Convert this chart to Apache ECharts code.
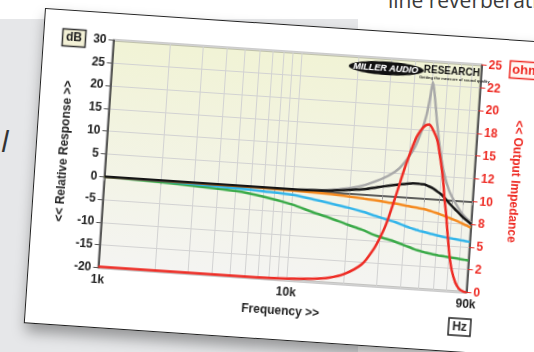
<!DOCTYPE html>
<html><head><meta charset="utf-8">
<script src="https://cdn.jsdelivr.net/npm/echarts@6/dist/echarts.min.js"></script>
<style>
html,body{margin:0;padding:0;width:534px;height:352px;overflow:hidden;background:#fff;}
#bg{position:absolute;left:0;top:19px;width:358px;height:333px;background:#e6e7e9;}
#txt{position:absolute;left:388px;top:-10px;font:21px/21px 'Open Sans',sans-serif;color:#3a3a3a;white-space:nowrap;}
#slash{position:absolute;left:1px;top:126px;font:italic 30px/30px 'Open Sans',sans-serif;color:#333;}
#card{position:absolute;left:45px;top:8px;width:540px;height:314px;background:#fff;border:1px solid #222;transform:rotate(3.85deg);transform-origin:0 0;box-shadow:2px 8px 14px rgba(0,0,0,0.35);}
#chart{position:absolute;left:-1px;top:-1px;width:540px;height:314px;}
</style></head>
<body>
<div id="bg"></div>
<div id="txt">line reverberation</div>
<div id="slash">l</div>
<div id="card"><div id="chart"></div></div>
<script>
const freqHz = [1000,2000,3000,5000,7000,10000,13000,16000,20000,24000,28000,32000,36000,40000,43000,46000,48000,49500,50500,52000,55000,58000,62000,67000,73000,80000,86000,90000];
const grayDb   = [0,0,0,0,0,0,0.15,0.45,1.1,2.0,3.2,4.5,6.2,8.8,11.3,15.0,18.3,22.5,25.5,23.0,16.5,11.2,6.0,2.1,-0.5,-2.8,-4.0,-4.7];
const blackDb  = [0,0,0,0,0,0,0.1,0.3,0.7,1.1,1.7,2.2,2.6,2.9,3.1,3.1,3.0,3.0,2.9,2.7,2.3,1.7,0.9,-0.5,-1.9,-3.4,-4.4,-5.0];
const orangeDb = [0,0,-0.05,-0.1,-0.15,-0.25,-0.35,-0.5,-0.75,-1.0,-1.2,-1.45,-1.65,-1.9,-2.05,-2.2,-2.3,-2.35,-2.4,-2.5,-2.75,-3.0,-3.35,-3.8,-4.3,-4.9,-5.4,-5.8];
const blueDb   = [0,-0.1,-0.3,-0.6,-0.85,-1.2,-1.9,-2.5,-3.2,-3.9,-4.6,-5.2,-5.7,-6.3,-6.7,-7.0,-7.2,-7.3,-7.35,-7.45,-7.65,-7.85,-8.05,-8.25,-8.45,-8.65,-8.8,-8.9];
const greenDb  = [0,-0.4,-0.7,-1.2,-2.0,-3.3,-4.7,-5.7,-6.9,-7.8,-8.8,-9.4,-9.9,-10.5,-10.9,-11.3,-11.5,-11.6,-11.7,-11.8,-12.0,-12.15,-12.3,-12.45,-12.6,-12.75,-12.9,-13.0];
const redFreqHz = [1000,5000,10000,13600,16700,20000,24600,28000,30000,32000,35000,38600,43000,46000,48000,50000,52000,55700,58000,60000,62000,64000,66000,68000,71000,74000,78000,82000,86000,90000];
const redOhm    = [0.1,0.1,0.2,0.35,0.6,1.1,2.3,4.0,5.3,6.8,9.8,13.3,16.5,17.6,18.0,18.1,17.7,16.5,15.0,13.6,12.0,10.0,8.4,6.5,4.0,2.3,1.0,0.35,0.1,0.0];
const gridFreqHz = [1000,2000,3000,4000,5000,6000,7000,8000,9000,10000,20000,30000,40000,50000,60000,70000,80000,90000];
const freqLabelHz = [1000,10000,90000];
const freqLabels = ['1k','10k','90k'];
const ohmLabels = ['0','2','5','8','10','12','15','18','20','22','25'];

const lg = Math.log10;
const pair = (fs, vs) => fs.map((f, i) => [lg(f), vs[i]]);
const FONT = "'Liberation Sans', Arial, sans-serif";
const RED = '#ee2b24';

const chart = echarts.init(document.getElementById('chart'), null, {renderer: 'canvas'});
const lineS = (name, color, data, yi, z) => ({
  name, type: 'line', data, yAxisIndex: yi, showSymbol: false, symbol: 'none',
  smooth: 0.3, lineStyle: {color, width: 2.5}, z, animation: false
});
chart.setOption({
  animation: false,
  grid: {
    left: 70.5, top: 27.5, width: 369, height: 228, show: true,
    backgroundColor: new echarts.graphic.LinearGradient(0, 0, 0, 1, [
      {offset: 0, color: '#f1f3d5'}, {offset: 1, color: '#f4f4f2'}]),
    borderColor: '#333', borderWidth: 1.5
  },
  xAxis: {
    type: 'value', min: lg(1000), max: lg(90000),
    axisLine: {show: true, lineStyle: {color: '#333', width: 1.5}},
    axisTick: {show: true, length: 4, customValues: gridFreqHz.map(lg), lineStyle: {color: '#999'}},
    axisLabel: {
      customValues: freqLabelHz.map(lg), margin: 6,
      formatter: v => { const i = freqLabelHz.findIndex(f => Math.abs(lg(f) - v) < 1e-6); return i >= 0 ? freqLabels[i] : ''; },
      fontFamily: FONT, fontWeight: 'bold', fontSize: 12, color: '#222'
    },
    splitLine: {show: true, lineStyle: {color: '#d2d2d2', width: 1}},
    name: 'Frequency >>', nameLocation: 'middle', nameGap: 25,
    nameTextStyle: {fontFamily: FONT, fontWeight: 'bold', fontSize: 12, color: '#222'}
  },
  yAxis: [{
    type: 'value', min: -20, max: 30, interval: 5,
    axisLine: {show: true, lineStyle: {color: '#333', width: 1.5}},
    axisTick: {show: true, length: 5, lineStyle: {color: '#555'}},
    axisLabel: {margin: 7, fontFamily: FONT, fontWeight: 'bold', fontSize: 12, color: '#222'},
    splitLine: {show: true, lineStyle: {color: '#d2d2d2', width: 1}},
    name: '<< Relative Response >>', nameLocation: 'middle', nameGap: 36, nameRotate: 90,
    nameTextStyle: {fontFamily: FONT, fontWeight: 'bold', fontSize: 12, color: '#222'}
  }, {
    type: 'value', position: 'right', min: 0, max: 25, interval: 2.5,
    axisLine: {show: true, lineStyle: {color: '#333', width: 1.5}},
    axisTick: {show: true, length: 5, lineStyle: {color: RED}},
    axisLabel: {margin: 7, formatter: v => ohmLabels[Math.round(v / 2.5)], fontFamily: FONT, fontWeight: 'bold', fontSize: 12, color: RED},
    splitLine: {show: false},
    name: '<< Output Impedance', nameLocation: 'middle', nameGap: 35, nameRotate: -90,
    nameTextStyle: {fontFamily: FONT, fontWeight: 'bold', fontSize: 12, color: RED}
  }],
  series: [
    lineS('gray', '#a9a9a9', pair(freqHz, grayDb), 0, 2),
    lineS('green', '#3aaa48', pair(freqHz, greenDb), 0, 3),
    lineS('blue', '#33b5ea', pair(freqHz, blueDb), 0, 4),
    lineS('orange', '#f58a1f', pair(freqHz, orangeDb), 0, 5),
    lineS('black', '#151515', pair(freqHz, blackDb), 0, 6),
    lineS('red', RED, pair(redFreqHz, redOhm), 1, 7)
  ],
  graphic: [
    {type: 'rect', z: 100, shape: {x: 19.5, y: 19.5, width: 23, height: 17}, style: {fill: '#f3f1d6', stroke: '#333', lineWidth: 1.5}},
    {type: 'text', z: 101, x: 31, y: 28, style: {text: 'dB', fontFamily: FONT, fontWeight: 'bold', fontSize: 12, fill: '#222', align: 'center', verticalAlign: 'middle'}},
    {type: 'rect', z: 100, shape: {x: 468, y: 21.5, width: 32, height: 17}, style: {fill: '#fff6f2', stroke: RED, lineWidth: 1.5}},
    {type: 'text', z: 101, x: 484, y: 30, style: {text: 'ohm', fontFamily: FONT, fontWeight: 'bold', fontSize: 13, fill: RED, align: 'center', verticalAlign: 'middle'}},
    {type: 'rect', z: 100, shape: {x: 424, y: 282, width: 22, height: 17}, style: {fill: '#fff', stroke: '#222', lineWidth: 1.5}},
    {type: 'text', z: 101, x: 435, y: 290.5, style: {text: 'Hz', fontFamily: FONT, fontWeight: 'bold', fontSize: 12, fill: '#222', align: 'center', verticalAlign: 'middle'}},
    {type: 'ellipse', z: 100, shape: {cx: 344.5, cy: 37.3, rx: 37.5, ry: 6.7}, style: {fill: '#111'}},
    {type: 'text', z: 101, x: 344, y: 37.5, style: {text: 'MILLER AUDIO', fontFamily: FONT, fontWeight: 'bold', fontStyle: 'italic', fontSize: 9, fill: '#fff', stroke: '#555', lineWidth: 0.5, align: 'center', verticalAlign: 'middle'}},
    {type: 'text', z: 101, x: 382, y: 36.5, style: {text: 'RESEARCH', fontFamily: FONT, fontWeight: 'bold', fontSize: 10, fill: '#111', align: 'left', verticalAlign: 'middle'}},
    {type: 'text', z: 101, x: 378, y: 44, style: {text: 'Getting the measure of sound quality', fontFamily: FONT, fontWeight: 'bold', fontSize: 4, fill: '#222', align: 'left', verticalAlign: 'middle'}}
  ]
});
</script>
</body></html>
